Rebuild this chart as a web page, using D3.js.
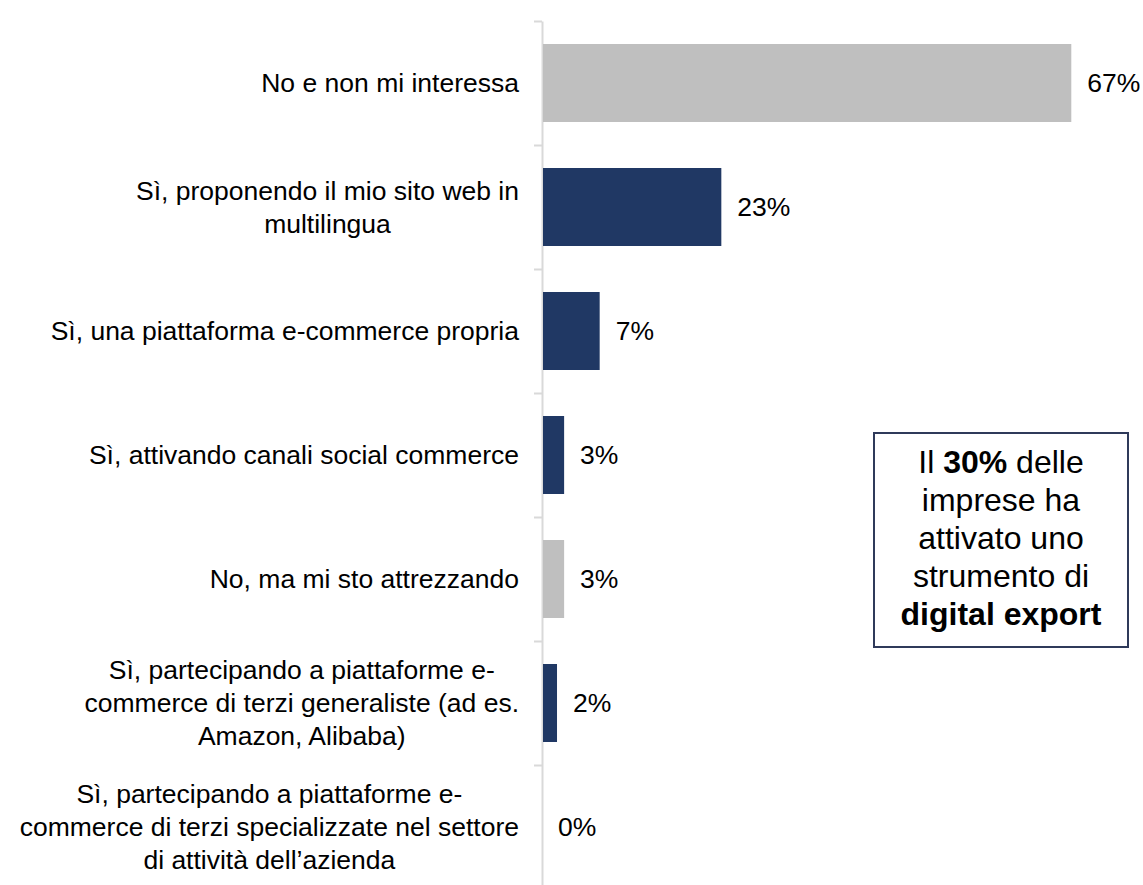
<!DOCTYPE html>
<html>
<head>
<meta charset="utf-8">
<script src="https://cdn.jsdelivr.net/npm/d3@7/dist/d3.min.js"></script>
<style>
  html, body { margin: 0; padding: 0; background: #ffffff; }
  svg { display: block; font-family: "Liberation Sans", Arial, sans-serif; }
</style>
</head>
<body>
<svg id="chart" width="1143" height="885"></svg>
<script>
// ---- data ----
const categories = [
  "No e non mi interessa",
  "Sì, proponendo il mio sito web in\nmultilingua",
  "Sì, una piattaforma e-commerce propria",
  "Sì, attivando canali social commerce",
  "No, ma mi sto attrezzando",
  "Sì, partecipando a piattaforme e-\ncommerce di terzi generaliste (ad es.\nAmazon, Alibaba)",
  "Sì, partecipando a piattaforme e-\ncommerce di terzi specializzate nel settore\ndi attività dell’azienda"
];
const values = [67.0, 22.7, 7.3, 2.8, 2.8, 1.9, 0];
const groups = ["No", "Sì", "Sì", "Sì", "No", "Sì", "Sì"];
const valueLabels = ["67%", "23%", "7%", "3%", "3%", "2%", "0%"];
const calloutLines = [
  [{t: "Il ", b: false}, {t: "30%", b: true}, {t: " delle", b: false}],
  [{t: "imprese ha", b: false}],
  [{t: "attivato uno", b: false}],
  [{t: "strumento di", b: false}],
  [{t: "digital export", b: true}]
];

// ---- layout ----
const svg = d3.select("#chart");
const axisX = 542, plotTop = 21, plotBottom = 889;
const labelRight = 519;
const fontSize = 26.5;

const y = d3.scaleBand().domain(d3.range(categories.length)).range([plotTop, plotBottom])
  .paddingInner(0.371).paddingOuter(0.371 / 2);
const x = d3.scaleLinear().domain([0, 100]).range([axisX, axisX + 790]);
const color = d3.scaleOrdinal().domain(["No", "Sì"]).range(["#bfbfbf", "#203864"]);
const yLine = d3.scaleLinear().domain([0, categories.length]).range([plotTop, plotBottom]);

// axis with ticks at band boundaries
const axisG = svg.append("g").attr("transform", `translate(${axisX},0)`)
  .call(d3.axisLeft(yLine).tickValues(d3.range(0, categories.length + 1))
    .tickSize(8).tickSizeOuter(0).tickFormat(""));
axisG.select(".domain").attr("stroke", "#d9d9d9").attr("stroke-width", 2);
axisG.selectAll(".tick line").attr("stroke", "#d9d9d9").attr("stroke-width", 2);

// bars
svg.append("g").selectAll("rect").data(values).join("rect")
  .attr("x", x(0) + 1)
  .attr("y", (d, i) => y(i))
  .attr("width", d => Math.max(0, x(d) - x(0) - 1))
  .attr("height", y.bandwidth())
  .attr("fill", (d, i) => color(groups[i]));

// value labels
svg.append("g").selectAll("text").data(values).join("text")
  .attr("x", d => x(d) + 16)
  .attr("y", (d, i) => y(i) + y.bandwidth() / 2)
  .attr("dy", "0.35em")
  .attr("font-size", fontSize)
  .attr("fill", "#000")
  .text((d, i) => valueLabels[i]);

// category labels (lines centred within a right-aligned block)
const lineH = 33;
categories.forEach((c, i) => {
  const lines = c.split("\n");
  const cy = y(i) + y.bandwidth() / 2;
  const t = svg.append("text").attr("font-size", fontSize).attr("fill", "#000")
    .attr("text-anchor", "middle");
  const spans = lines.map((l, k) => t.append("tspan")
    .attr("y", cy + (k - (lines.length - 1) / 2) * lineH)
    .attr("dy", "0.35em").text(l));
  const maxW = d3.max(spans, s => s.node().getComputedTextLength());
  spans.forEach(s => s.attr("x", labelRight - maxW / 2));
});

// callout box
svg.append("rect").attr("x", 874).attr("y", 433).attr("width", 254).attr("height", 214)
  .attr("fill", "#fff").attr("stroke", "#2f3a5a").attr("stroke-width", 2);
calloutLines.forEach((parts, k) => {
  const t = svg.append("text").attr("x", 1001).attr("y", 473 + k * 38)
    .attr("text-anchor", "middle").attr("font-size", 32).attr("fill", "#000");
  parts.forEach(p => t.append("tspan").attr("font-weight", p.b ? "bold" : "normal").text(p.t));
});
</script>
</body>
</html>
